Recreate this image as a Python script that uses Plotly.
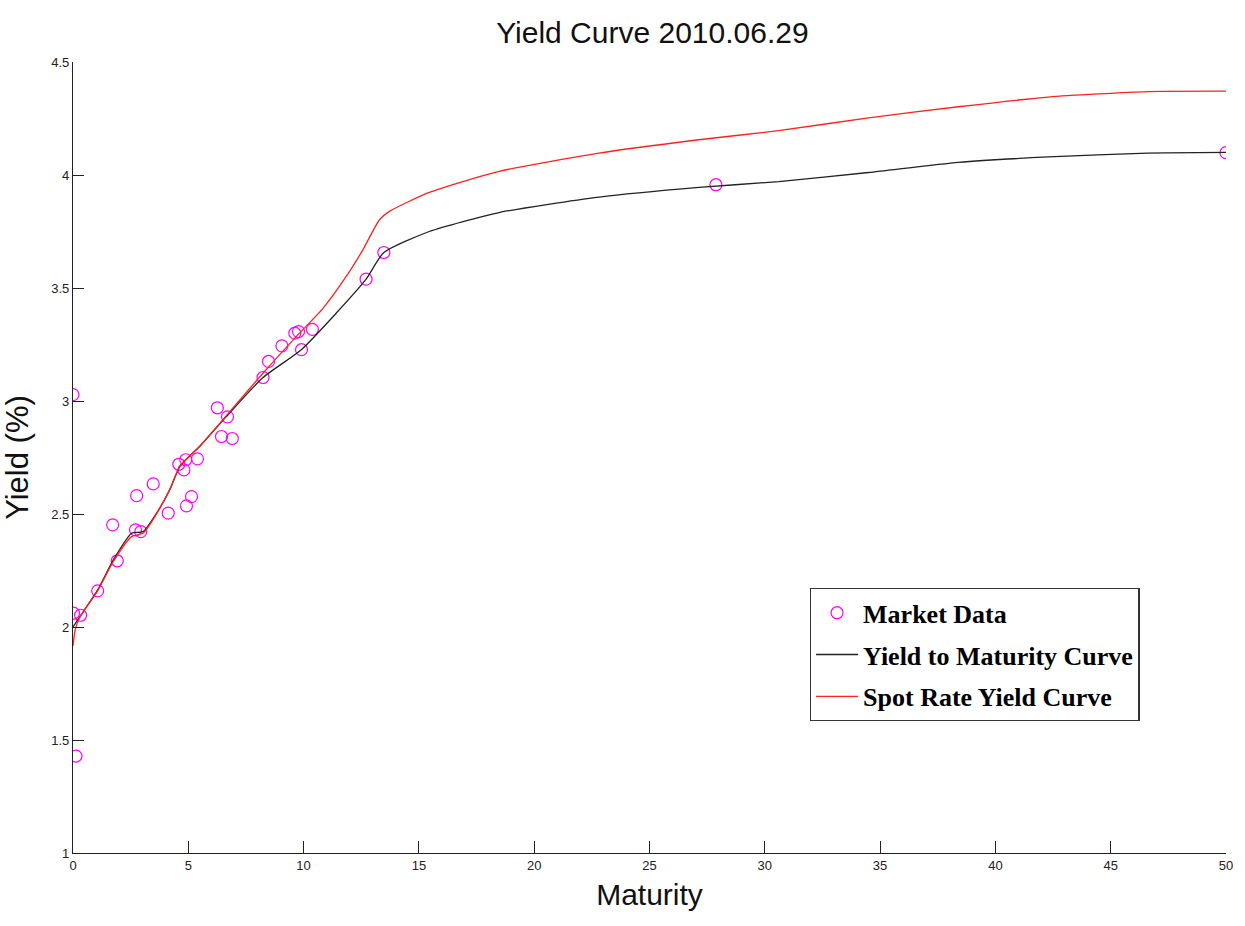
import plotly.graph_objects as go

# Market quotes: maturity (years) and yield (%)
market_maturity = [0.0, 0.02, 0.33, 0.13, 1.07, 1.92, 1.72, 2.76, 2.71, 2.94, 3.48, 4.13,
                   4.59, 4.81, 4.89, 4.92, 5.14, 5.40, 6.26, 6.70, 6.44, 6.91, 8.24,
                   8.48, 9.06, 9.62, 9.78, 9.91, 10.38, 12.71, 13.48, 27.88, 50.0]
market_yield = [3.028, 2.061, 2.052, 1.429, 2.16, 2.293, 2.452, 2.581, 2.43, 2.422, 2.633, 2.504,
                2.72, 2.695, 2.74, 2.536, 2.577, 2.744, 2.97, 2.93, 2.843, 2.834, 3.104,
                3.175, 3.244, 3.30, 3.307, 3.227, 3.317, 3.539, 3.657, 3.957, 4.099]

# Fitted yield-to-maturity curve
ytm_maturity = [0.0, 0.33, 1.07, 1.75, 2.54, 3.04, 3.62, 4.2, 4.63, 5.5, 6.65, 8.24, 9.9,
                11.41, 12.71, 13.48, 15.45, 18.48, 22.81, 27.14, 30.6, 34.5, 38.4, 42.3,
                46.6, 50.0]
ytm_yield = [2.00, 2.05, 2.164, 2.297, 2.415, 2.422, 2.503, 2.607, 2.71, 2.80, 2.931, 3.104,
             3.227, 3.388, 3.539, 3.657, 3.75, 3.834, 3.902, 3.945, 3.971, 4.011, 4.056,
             4.08, 4.097, 4.10]

# Bootstrapped spot-rate curve
spot_maturity = [0.0, 0.1, 0.33, 1.07, 1.75, 2.54, 3.04, 3.62, 4.2, 4.63, 5.5, 6.65, 8.24,
                 9.68, 10.84, 11.85, 12.57, 13.29, 13.72, 15.45, 18.48, 22.81, 27.14, 30.6,
                 34.5, 38.4, 42.3, 46.6, 50.0]
spot_yield = [1.916, 1.99, 2.05, 2.16, 2.29, 2.40, 2.415, 2.50, 2.61, 2.71, 2.80, 2.935, 3.123,
              3.285, 3.41, 3.551, 3.669, 3.802, 3.839, 3.923, 4.016, 4.097, 4.156, 4.196,
              4.253, 4.302, 4.345, 4.369, 4.371]

x_ticks = [0, 5, 10, 15, 20, 25, 30, 35, 40, 45, 50]
y_ticks = [1, 1.5, 2, 2.5, 3, 3.5, 4, 4.5]

fig = go.Figure()
fig.add_trace(go.Scatter(
    x=market_maturity, y=market_yield, mode="markers", name="Market Data",
    legendgroup="a",
    marker=dict(symbol="circle-open", size=12, color="#ff00ff", line=dict(width=1.2, color="#ff00ff")),
))
fig.add_trace(go.Scatter(
    x=ytm_maturity, y=ytm_yield, mode="lines", name="Yield to Maturity Curve",
    legendgroup="b",
    line=dict(color="#222222", width=1.3, shape="spline", smoothing=0.6),
))
fig.add_trace(go.Scatter(
    x=spot_maturity, y=spot_yield, mode="lines", name="Spot Rate Yield Curve",
    legendgroup="c",
    line=dict(color="#ff2020", width=1.3, shape="spline", smoothing=0.6),
))

axis_font = dict(family="Liberation Sans, Arial, sans-serif", size=13, color="#222222")

fig.update_layout(
    width=1245, height=926,
    margin=dict(l=73, r=16, t=62, b=73),
    paper_bgcolor="white", plot_bgcolor="white",
    title=dict(text="Yield Curve 2010.06.29", x=0.524, xanchor="center", y=0.965, yanchor="middle",
               font=dict(family="Liberation Sans, Arial, sans-serif", size=30, color="#111111")),
    xaxis=dict(
        range=[0, 50], tickvals=x_ticks, ticks="inside", ticklen=12, tickcolor="#222222",
        showline=True, linecolor="#222222", linewidth=1.3, showgrid=False, zeroline=False,
        tickfont=axis_font,
        title=dict(text="Maturity", standoff=12,
                   font=dict(family="Liberation Sans, Arial, sans-serif", size=30, color="#111111")),
    ),
    yaxis=dict(
        range=[1, 4.5], tickvals=y_ticks, ticks="inside", ticklen=11, tickcolor="#222222",
        showline=True, linecolor="#222222", linewidth=1.3, showgrid=False, zeroline=False,
        tickfont=axis_font,
        title=dict(text="Yield (%)", standoff=16,
                   font=dict(family="Liberation Sans, Arial, sans-serif", size=31, color="#111111")),
    ),
    legend=dict(
        x=0.639, y=0.335, xanchor="left", yanchor="top",
        bgcolor="white", bordercolor="#333333", borderwidth=1.3,
        traceorder="grouped", tracegroupgap=5, itemwidth=42,
        font=dict(family="Liberation Serif, Times New Roman, serif", size=26, color="#000000",
                  weight="bold"),
    ),
    showlegend=True,
)

fig.write_html("out.html")
